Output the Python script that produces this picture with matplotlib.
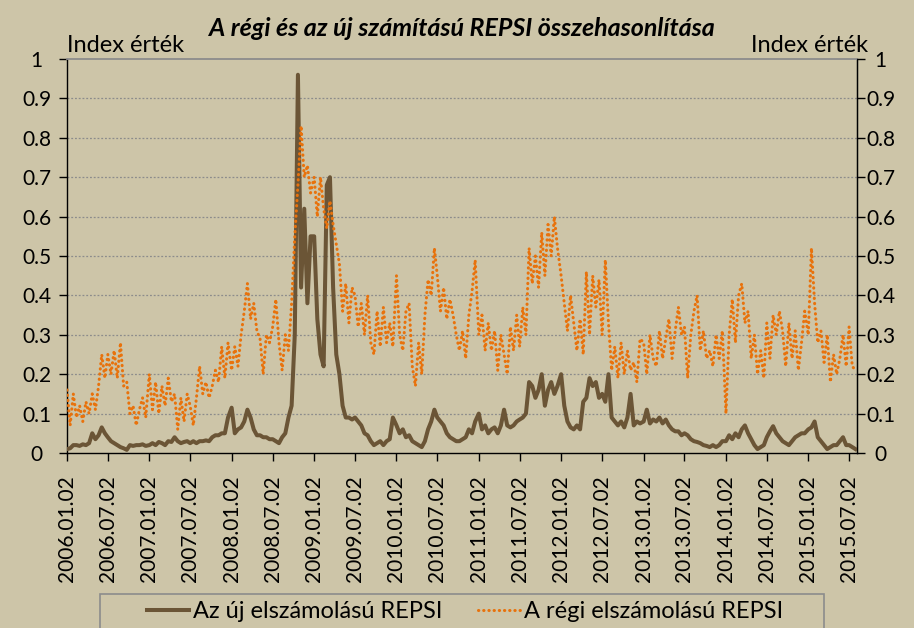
import matplotlib
matplotlib.use("Agg")
import matplotlib.pyplot as plt
from matplotlib.patches import Rectangle
from matplotlib.lines import Line2D
import pandas as pd
import numpy as np

# ---------------- data (bi-weekly readings, H1 then H2 of each year) ----------------
old_2006 = [0.16, 0.07, 0.15, 0.09, 0.12, 0.08, 0.13, 0.10, 0.15, 0.11, 0.17, 0.25, 0.19,
            0.25, 0.20, 0.26, 0.19, 0.28, 0.17, 0.18, 0.10, 0.12, 0.07, 0.11, 0.14, 0.09]
old_2007 = [0.20, 0.11, 0.18, 0.10, 0.17, 0.12, 0.19, 0.13, 0.15, 0.06, 0.14, 0.08, 0.15,
            0.12, 0.07, 0.14, 0.22, 0.15, 0.18, 0.14, 0.17, 0.21, 0.18, 0.27, 0.19, 0.28]
old_2008 = [0.21, 0.27, 0.22, 0.30, 0.36, 0.43, 0.34, 0.38, 0.31, 0.29, 0.20, 0.30, 0.28,
            0.32, 0.39, 0.28, 0.21, 0.30, 0.26, 0.38, 0.55, 0.68, 0.83, 0.70, 0.73, 0.66]
old_2009 = [0.70, 0.60, 0.70, 0.62, 0.57, 0.64, 0.58, 0.53, 0.48, 0.36, 0.43, 0.33, 0.42,
            0.40, 0.32, 0.38, 0.30, 0.40, 0.28, 0.25, 0.36, 0.27, 0.37, 0.28, 0.33, 0.27]
old_2010 = [0.45, 0.30, 0.26, 0.36, 0.38, 0.22, 0.17, 0.28, 0.20, 0.35, 0.44, 0.40, 0.52,
            0.45, 0.36, 0.42, 0.34, 0.39, 0.35, 0.30, 0.26, 0.31, 0.24, 0.35, 0.41, 0.49]
old_2011 = [0.30, 0.35, 0.26, 0.33, 0.26, 0.31, 0.21, 0.30, 0.25, 0.20, 0.32, 0.26, 0.35,
            0.27, 0.37, 0.30, 0.52, 0.43, 0.50, 0.42, 0.56, 0.45, 0.58, 0.50, 0.60, 0.52]
old_2012 = [0.45, 0.38, 0.31, 0.40, 0.33, 0.26, 0.34, 0.25, 0.46, 0.30, 0.45, 0.37, 0.44,
            0.30, 0.49, 0.33, 0.21, 0.27, 0.19, 0.28, 0.20, 0.26, 0.21, 0.23, 0.18, 0.29]
old_2013 = [0.28, 0.20, 0.30, 0.24, 0.22, 0.31, 0.24, 0.29, 0.34, 0.24, 0.31, 0.37, 0.30,
            0.32, 0.19, 0.30, 0.36, 0.40, 0.26, 0.31, 0.24, 0.26, 0.22, 0.30, 0.24, 0.31]
old_2014 = [0.10, 0.30, 0.39, 0.28, 0.40, 0.43, 0.33, 0.36, 0.24, 0.30, 0.20, 0.26, 0.19,
            0.33, 0.24, 0.35, 0.30, 0.36, 0.31, 0.22, 0.33, 0.24, 0.31, 0.21, 0.28, 0.36]
old_2015 = [0.30, 0.52, 0.38, 0.28, 0.31, 0.23, 0.30, 0.18, 0.25, 0.20, 0.24, 0.30, 0.22,
            0.32, 0.22, 0.21]

new_2006 = [0.010, 0.012, 0.020, 0.020, 0.018, 0.022, 0.020, 0.025, 0.050, 0.035, 0.045, 0.065, 0.050,
            0.040, 0.030, 0.025, 0.020, 0.015, 0.012, 0.008, 0.020, 0.018, 0.020, 0.020, 0.022, 0.018]
new_2007 = [0.020, 0.025, 0.020, 0.028, 0.025, 0.020, 0.030, 0.028, 0.040, 0.030, 0.025, 0.028, 0.030,
            0.025, 0.030, 0.025, 0.030, 0.030, 0.032, 0.030, 0.040, 0.045, 0.045, 0.050, 0.050, 0.090]
new_2008 = [0.115, 0.050, 0.060, 0.065, 0.080, 0.110, 0.090, 0.060, 0.045, 0.045, 0.040, 0.040, 0.035,
            0.035, 0.030, 0.025, 0.040, 0.050, 0.090, 0.120, 0.300, 0.960, 0.420, 0.620, 0.380, 0.550]
new_2009 = [0.550, 0.340, 0.250, 0.220, 0.680, 0.700, 0.420, 0.250, 0.200, 0.120, 0.090, 0.090, 0.085,
            0.090, 0.080, 0.070, 0.050, 0.045, 0.030, 0.020, 0.025, 0.030, 0.020, 0.030, 0.035, 0.090]
new_2010 = [0.070, 0.050, 0.060, 0.040, 0.045, 0.030, 0.025, 0.020, 0.015, 0.030, 0.060, 0.080, 0.110,
            0.090, 0.080, 0.070, 0.050, 0.040, 0.035, 0.030, 0.030, 0.035, 0.040, 0.060, 0.050, 0.080]
new_2011 = [0.100, 0.060, 0.070, 0.050, 0.060, 0.065, 0.050, 0.070, 0.110, 0.070, 0.065, 0.070, 0.080,
            0.085, 0.090, 0.100, 0.180, 0.170, 0.140, 0.160, 0.200, 0.120, 0.160, 0.180, 0.150, 0.170]
new_2012 = [0.200, 0.120, 0.080, 0.065, 0.060, 0.070, 0.060, 0.130, 0.140, 0.190, 0.170, 0.180, 0.140,
            0.150, 0.130, 0.200, 0.090, 0.080, 0.070, 0.080, 0.065, 0.090, 0.150, 0.070, 0.080, 0.075]
new_2013 = [0.080, 0.110, 0.075, 0.085, 0.080, 0.090, 0.075, 0.085, 0.070, 0.060, 0.055, 0.055, 0.045,
            0.050, 0.045, 0.035, 0.030, 0.028, 0.025, 0.020, 0.018, 0.015, 0.020, 0.015, 0.020, 0.030]
new_2014 = [0.030, 0.045, 0.035, 0.050, 0.040, 0.060, 0.070, 0.050, 0.035, 0.020, 0.010, 0.015, 0.020,
            0.040, 0.055, 0.068, 0.050, 0.040, 0.030, 0.025, 0.020, 0.030, 0.040, 0.045, 0.050, 0.050]
new_2015 = [0.060, 0.065, 0.080, 0.040, 0.030, 0.020, 0.010, 0.015, 0.020, 0.020, 0.030, 0.040, 0.020,
            0.020, 0.015, 0.010]

years = list(range(2006, 2016))
old_series = [old_2006, old_2007, old_2008, old_2009, old_2010,
              old_2011, old_2012, old_2013, old_2014, old_2015]
new_series = [new_2006, new_2007, new_2008, new_2009, new_2010,
              new_2011, new_2012, new_2013, new_2014, new_2015]

title = "A régi és az új számítású REPSI összehasonlítása"
axis_label = "Index érték"
label_new = "Az új elszámolású REPSI"
label_old = "A régi elszámolású REPSI"

# ---------------- build date index (13 bi-weekly points per half year) ----------------
dates = []
for y, vals in zip(years, old_series):
    n = len(vals)
    dates.extend(pd.date_range(f"{y}-01-02", periods=min(13, n), freq="14D"))
    if n > 13:
        dates.extend(pd.date_range(f"{y}-07-02", periods=n - 13, freq="14D"))
dates = pd.DatetimeIndex(dates)
old_vals = np.concatenate([np.array(v) for v in old_series])
new_vals = np.concatenate([np.array(v) for v in new_series])

# ---------------- styling ----------------
bg = "#cdc5a8"
brown = "#6b5536"
orange = "#e8720c"
plt.rcParams["font.family"] = ["Lato", "DejaVu Sans"]

W, H = 914, 628
fig = plt.figure(figsize=(W / 100, H / 100), dpi=100, facecolor=bg)
x0, x1, ytop, ybot = 67, 857, 59, 453
ax = fig.add_axes([x0 / W, 1 - ybot / H, (x1 - x0) / W, (ybot - ytop) / H])
ax.set_facecolor(bg)

dot_style = (0, (0.1, 1.6))
ax.plot(dates, new_vals, color=brown, lw=2.9, solid_joinstyle="round", zorder=3)
ax.plot(dates, old_vals, color=orange, lw=2.2, linestyle=dot_style,
        dash_capstyle="round", zorder=4)

ax.set_ylim(0, 1)
ax.set_xlim(pd.Timestamp("2006-01-02"), pd.Timestamp("2015-08-06"))
yt = np.round(np.arange(0, 1.01, 0.1), 1)
ylabels = ["0"] + [f"{v:g}" for v in yt[1:-1]] + ["1"]
ax.set_yticks(yt)
ax.set_yticklabels(ylabels, ha="center")
for v in yt[1:-1]:
    ax.axhline(v, color="#8c8c8c", lw=0.9, ls=(0, (1.5, 1.5)), zorder=1)

tick_dates = []
for y in years:
    tick_dates.append(pd.Timestamp(f"{y}-01-02"))
    tick_dates.append(pd.Timestamp(f"{y}-07-02"))
tick_dates = [d for d in tick_dates if d <= pd.Timestamp("2015-07-02")]
ax.set_xticks(tick_dates)
ax.set_xticklabels([d.strftime("%Y.%m.%d") for d in tick_dates], rotation=90,
                   fontsize=15)
ax.tick_params(axis="x", direction="out", length=6, width=1, pad=10, color="black")
ax.tick_params(axis="y", direction="out", length=6, width=1, labelsize=15, pad=16)

for s in ["left", "bottom", "right"]:
    ax.spines[s].set_color("black")
    ax.spines[s].set_linewidth(1.0)
ax.spines["top"].set_color("#8c8c8c")
ax.spines["top"].set_linewidth(1.3)

ax2 = ax.twinx()
ax2.set_ylim(0, 1)
ax2.set_yticks(yt)
ax2.set_yticklabels(ylabels, ha="center")
ax2.tick_params(axis="y", direction="out", length=6, width=1, labelsize=15, pad=11)
for s in ["left", "bottom", "top"]:
    ax2.spines[s].set_visible(False)
ax2.spines["right"].set_color("black")

fig.text(462 / W, 1 - 28 / H, title, ha="center", va="center", fontsize=18,
         fontweight="bold", fontstyle="italic")
fig.text(67 / W, 1 - 45 / H, axis_label, ha="left", va="center", fontsize=17)
fig.text(868 / W, 1 - 45 / H, axis_label, ha="right", va="center", fontsize=17)

# legend
fig.patches.append(Rectangle((100 / W, -0.05), 724 / W, 0.05 + 1 - 594 / H,
                             transform=fig.transFigure, facecolor=bg,
                             edgecolor="#8c8c8c", lw=1.2))
handles = [Line2D([], [], color=brown, lw=2.9),
           Line2D([], [], color=orange, lw=2.2, linestyle=dot_style,
                  dash_capstyle="round")]
fig.legend(handles, [label_new, label_old], ncol=2, loc="center",
           bbox_to_anchor=(465 / W, 1 - 612 / H), frameon=False, fontsize=17,
           handlelength=1.8, handletextpad=0.15, columnspacing=1.5)

fig.savefig("out.png", dpi=100, facecolor=bg)
